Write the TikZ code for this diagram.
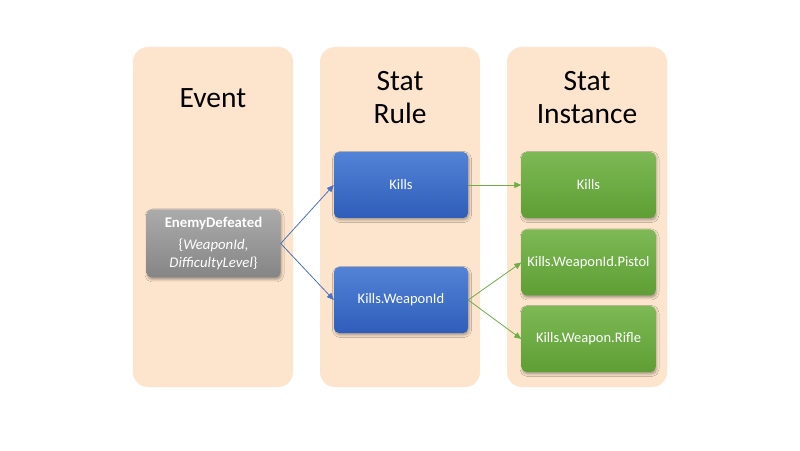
\documentclass[tikz,border=0pt]{standalone}
\usepackage{fontspec}
\setmainfont{Carlito}
\usetikzlibrary{shadows.blur,arrows.meta}
\definecolor{peach}{HTML}{FDE5CD}
\definecolor{bluetop}{HTML}{5283D6}
\definecolor{bluebot}{HTML}{2F5DBA}
\definecolor{greentop}{HTML}{7DB955}
\definecolor{greenbot}{HTML}{5E9E34}
\definecolor{graytop}{HTML}{ABABAB}
\definecolor{graybot}{HTML}{858585}
\definecolor{blueline}{HTML}{4A72C0}
\definecolor{greenline}{HTML}{70AD47}
\tikzset{
  column/.style={fill=peach, rounded corners=15pt, minimum width=160pt, minimum height=340pt, inner sep=0pt},
  title/.style={font=\fontsize{29.5}{33}\selectfont, align=center, text=black},
  box/.style={rounded corners=5pt, minimum width=134pt, minimum height=66pt, inner sep=2pt, text=white,
    font=\fontsize{14.5}{17}\selectfont, align=center,
    blur shadow={shadow xshift=1pt, shadow yshift=-2pt, shadow blur radius=2.5pt, shadow opacity=35}},
  bluebox/.style={box, top color=bluetop, bottom color=bluebot},
  greenbox/.style={box, top color=greentop, bottom color=greenbot},
  graybox/.style={box, top color=graytop, bottom color=graybot, minimum height=68pt, font=\fontsize{14.8}{17.5}\selectfont},
  bluearrow/.style={draw=blueline, line width=0.8pt, -{Triangle[length=7pt,width=6pt]}},
  greenarrow/.style={draw=greenline, line width=0.8pt, -{Triangle[length=7pt,width=6pt]}},
}
\begin{document}
\begin{tikzpicture}[x=1pt,y=1pt]
\useasboundingbox (0,0) rectangle (800,450);
\fill[white] (0,0) rectangle (800,450);
% columns
\node[column] (c1) at (213,233) {};
\node[column] (c2) at (400,233) {};
\node[column] (c3) at (587,233) {};
\node[title] (t1) at (213,352) {Event};
\node[title] (t2) at (400,352) {Stat\\Rule};
\node[title] (t3) at (587,352) {Stat\\Instance};
% boxes
\node[graybox] (ev) at (213.5,206.5) {\textbf{EnemyDefeated}\\[5pt]\{\textit{WeaponId},\\\textit{DifficultyLevel}\}};
\node[bluebox] (r1) at (401,265) {Kills};
\node[bluebox] (r2) at (401,150) {Kills.WeaponId};
\node[greenbox] (i1) at (588.5,265) {Kills};
\node[greenbox] (i2) at (588.5,187.5) {Kills.WeaponId.Pistol};
\node[greenbox] (i3) at (588.5,111) {Kills.Weapon.Rifle};
% arrows
\draw[bluearrow] (ev.east) -- (r1.west);
\draw[bluearrow] (ev.east) -- (r2.west);
\draw[greenarrow] (r1.east) -- (i1.west);
\draw[greenarrow] (r2.east) -- (i2.west);
\draw[greenarrow] (r2.east) -- (i3.west);
\end{tikzpicture}
\end{document}
